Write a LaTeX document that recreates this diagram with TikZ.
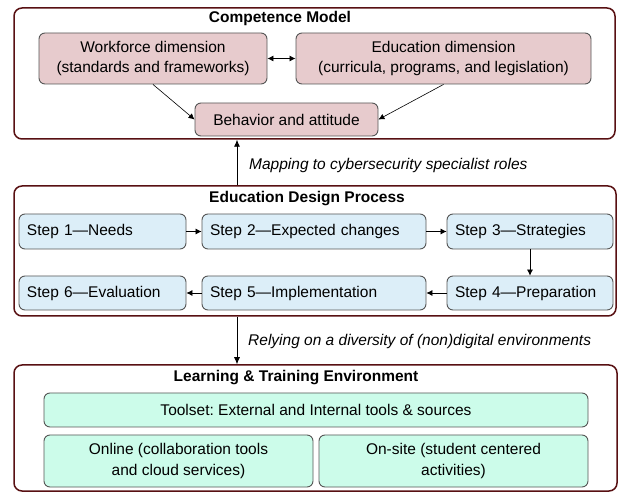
\documentclass[tikz,border=0pt]{standalone}
\usepackage{fontspec}
\setmainfont{Liberation Sans}
\usetikzlibrary{arrows.meta}

\definecolor{frame}{RGB}{88,16,18}
\definecolor{boxline}{RGB}{85,85,85}
\definecolor{compfill}{RGB}{231,203,205}
\definecolor{stepfill}{RGB}{220,238,248}
\definecolor{envfill}{RGB}{204,252,234}

\tikzset{
  group/.style={draw=frame, line width=1.5pt, rounded corners=8pt, inner sep=0pt},
  grouptitle/.style={font=\bfseries, inner sep=0pt},
  inbox/.style={draw=boxline, line width=0.9pt, rounded corners=6pt, inner sep=0pt, align=center},
  compbox/.style={inbox, fill=compfill},
  stepbox/.style={inbox, fill=stepfill, align=left, inner xsep=8pt, text width=#1-16pt},
  envbox/.style={inbox, fill=envfill},
  link/.style={-{Latex[length=7pt,width=6pt]}, line width=0.8pt},
  flow/.style={-{Latex[length=6pt,width=6pt]}, line width=0.6pt},
  note/.style={font=\itshape, anchor=west, inner sep=0pt}
}

\begin{document}
\begin{tikzpicture}[x=1pt, y=-1pt]
\fontsize{15.5}{20.5}\selectfont
\useasboundingbox (0,0) rectangle (619,494);

% Competence model
\node[group, minimum width=601pt, minimum height=131pt] (box1) at (314.5,73.5) {};
\node[grouptitle] (t1) at (280,18) {Competence Model};
\node[compbox, minimum width=228pt, minimum height=51pt] (wf) at (153,58.5)
  {Workforce dimension\\(standards and frameworks)};
\node[compbox, minimum width=295pt, minimum height=51pt] (ed) at (443.5,58.5)
  {Education dimension\\(curricula, programs, and legislation)};
\node[compbox, minimum width=183pt, minimum height=33pt] (beh) at (286.5,119.5)
  {Behavior and attitude};
\draw[{Latex[length=6pt,width=6pt]}-{Latex[length=6pt,width=6pt]}, line width=0.8pt] (wf.east) -- (ed.west);
\draw[flow] (wf.south) -- (beh.west);
\draw[flow] (ed.south) -- (beh.east);

% Education design process
\node[group, minimum width=602pt, minimum height=130pt] (box2) at (315,251) {};
\node[grouptitle] (t2) at (307,199) {Education Design Process};
\node[stepbox=167pt, minimum height=35pt] (s1) at (102.5,231.5) {Step 1---Needs};
\node[stepbox=224pt, minimum height=35pt] (s2) at (314,231.5) {Step 2---Expected changes};
\node[stepbox=166pt, minimum height=35pt] (s3) at (530,231.5) {Step 3---Strategies};
\node[stepbox=166pt, minimum height=34pt] (s4) at (530,293) {Step 4---Preparation};
\node[stepbox=224pt, minimum height=34pt] (s5) at (314,293) {Step 5---Implementation};
\node[stepbox=167pt, minimum height=34pt] (s6) at (102.5,293) {Step 6---Evaluation};
\draw[flow] (s1) -- (s2);
\draw[flow] (s2) -- (s3);
\draw[flow] (s3) -- (s4);
\draw[flow] (s4) -- (s5);
\draw[flow] (s5) -- (s6);

% Learning and training environment
\node[group, minimum width=603pt, minimum height=126pt] (box3) at (315.5,428) {};
\node[grouptitle] (t3) at (296,378) {Learning \& Training Environment};
\node[envbox, minimum width=544pt, minimum height=34pt] (tools) at (316,410)
  {Toolset:\ External and Internal tools \& sources};
\node[envbox, minimum width=269pt, minimum height=52pt] (online) at (178.5,461)
  {Online (collaboration tools\\and cloud services)};
\node[envbox, minimum width=269pt, minimum height=52pt] (onsite) at (453.5,461)
  {On-site (student centered\\activities)};

% Links between the three layers
\coordinate (spine) at (237,0);
\draw[link] (spine |- box2.north) -- (spine |- box1.south);
\node[note] (n1) at (249,165) {Mapping to cybersecurity specialist roles};
\draw[link] (spine |- box2.south) -- (spine |- box3.north);
\node[note] (n2) at (248,341) {Relying on a diversity of (non)digital environments};
\end{tikzpicture}
\end{document}
